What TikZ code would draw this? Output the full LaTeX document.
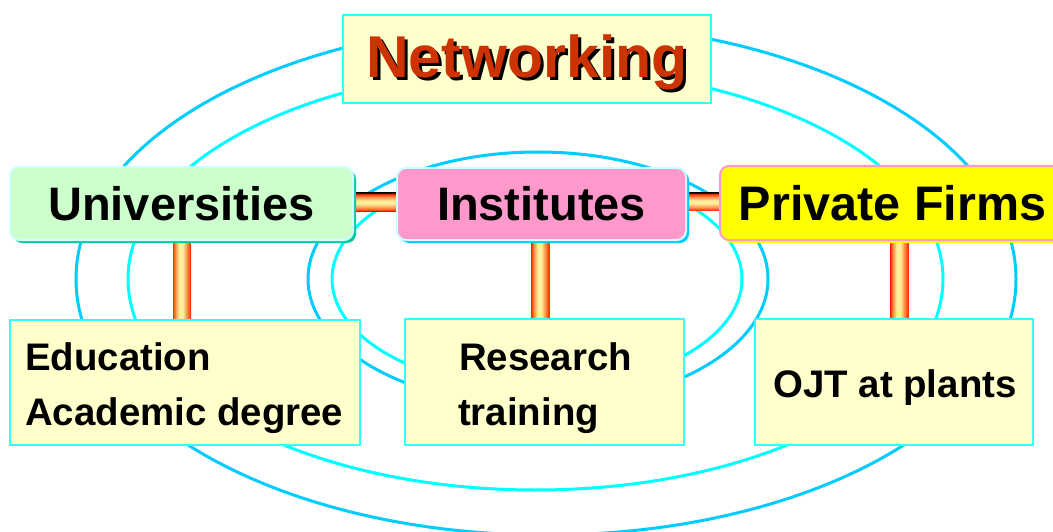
\documentclass[tikz,border=0pt]{standalone}
\usepackage{fontspec}
\setmainfont{Liberation Sans}
\usetikzlibrary{calc,shadows,backgrounds}

\definecolor{ringBlue}{HTML}{00CCFF}
\definecolor{ringCyan}{HTML}{00FFFF}
\definecolor{paleYellow}{HTML}{FFFFCC}
\definecolor{boxEdge}{HTML}{33FFFF}
\definecolor{mint}{HTML}{CCFFCC}
\definecolor{mintShadow}{HTML}{00CC99}
\definecolor{lightEdge}{HTML}{CCFFFF}
\definecolor{rosePink}{HTML}{FF99CC}
\definecolor{skyShadow}{HTML}{00CCFF}
\definecolor{brightYellow}{HTML}{FFFF00}
\definecolor{titleRed}{HTML}{CC3300}
\definecolor{barDark}{HTML}{3A0A00}
\definecolor{barRed}{HTML}{FF3300}
\definecolor{barOrange}{HTML}{FF8844}
\definecolor{barLight}{HTML}{FFEE99}

% tube look of the links: horizontal links vary top-to-bottom, vertical ones left-to-right
\pgfdeclareverticalshading{hbarshade}{100bp}{color(0bp)=(barDark); color(25bp)=(barDark); color(27bp)=(barRed); color(34bp)=(barOrange); color(46bp)=(barLight); color(54bp)=(barLight); color(65bp)=(barOrange); color(72bp)=(barRed); color(75bp)=(barDark); color(100bp)=(barDark)}
\pgfdeclarehorizontalshading{vbarshade}{100bp}{color(0bp)=(barRed); color(25bp)=(barRed); color(31bp)=(barOrange); color(42bp)=(barLight); color(52bp)=(barLight); color(64bp)=(barOrange); color(73bp)=(barRed); color(75bp)=(barRed); color(100bp)=(barRed)}

% bold title with a black drop shadow behind it
\newcommand{\shadowtitle}[1]{%
  \makebox[0pt][l]{\hspace{3pt}\raisebox{-3pt}{\color{black}#1}}{\color{titleRed}#1}}

\begin{document}
\begin{tikzpicture}[x=1pt,y=-1pt,
  ring/.style={line width=3pt},
  plainbox/.style={rectangle, fill=paleYellow, draw=boxEdge, line width=1.5pt, inner sep=0pt},
  roundbox/.style={rectangle, rounded corners=9pt, line width=2pt, inner sep=0pt,
    font=\fontsize{47}{50}\selectfont\bfseries},
  titletext/.style={anchor=base, inner sep=0pt, font=\fontsize{59}{60}\selectfont\bfseries},
  bodytext/.style={inner sep=0pt, font=\fontsize{38.4}{44}\selectfont\bfseries},
  linkh/.style={shading=hbarshade},
  linkv/.style={shading=vbarshade}]

\useasboundingbox (0,0) rectangle (1053,532);

% title box
\node[plainbox, minimum width=368pt, minimum height=88pt] (net) at (527,59) {};
\node[titletext] (nettext) at (527,78) {\shadowtitle{Networking}};

% middle row
\node[roundbox, fill=mint, draw=lightEdge,
  general shadow={fill=mintShadow, shadow xshift=3pt, shadow yshift=-3pt},
  minimum width=343pt, minimum height=73pt] (uni) at (181.5,203.5) {Universities};
\node[roundbox, fill=rosePink, draw=lightEdge,
  general shadow={fill=skyShadow, shadow xshift=3pt, shadow yshift=-3pt},
  minimum width=289pt, minimum height=72pt] (inst) at (541.5,204) {Institutes};
\node[roundbox, fill=brightYellow, draw=rosePink,
  general shadow={fill=brightYellow, shadow xshift=3pt, shadow yshift=-3pt},
  minimum width=345pt, minimum height=74pt,
  font=\fontsize{48.5}{52}\selectfont\bfseries] (pf) at (892.5,203) {Private Firms};

% bottom row
\node[plainbox, minimum width=350pt, minimum height=125pt] (edu) at (185,382.5) {};
\node[plainbox, minimum width=279pt, minimum height=126pt] (res) at (544.5,382) {};
\node[plainbox, minimum width=278pt, minimum height=126pt] (ojt) at (894,382) {};

\node[bodytext, anchor=base west] (edu1) at (25,370) {Education};
\node[bodytext, anchor=base west] (edu2) at (25,425) {Academic degree};
\node[bodytext, anchor=base west] (res1) at (459,370) {Research};
\node[bodytext, anchor=base west] (res2) at (458,425) {training};
\node[bodytext, anchor=base] (ojt1) at (895,397) {OJT at plants};

\begin{pgfonlayer}{background}
  \fill[white] (0,0) rectangle (1053,532);
  % concentric rings
  \draw[ring, ringBlue] (546,279) ellipse [x radius=470pt, y radius=256pt];
  \draw[ring, ringCyan] (535.5,279) ellipse [x radius=407.5pt, y radius=211pt];
  \draw[ring, ringBlue] (538,279) ellipse [x radius=230pt, y radius=127pt];
  \draw[ring, ringCyan] (537,279) ellipse [x radius=205pt, y radius=110pt];
  % links between the partners
  \shade[linkh] ($(uni.east)+(-2,-10.5)$) rectangle ($(inst.west)+(2,7.5)$);
  \shade[linkh] ($(inst.east)+(-2,-11)$) rectangle ($(pf.west)+(2,8)$);
  % links down to the activities
  \shade[linkv] ($(uni.south)+(-8.5,-2)$) rectangle ($(uni.south |- edu.north)+(9.5,2)$);
  \shade[linkv] ($(inst.south)+(-10,-2)$) rectangle ($(inst.south |- res.north)+(8,2)$);
  \shade[linkv] ($(pf.south)+(-2,-2)$) rectangle ($(pf.south |- ojt.north)+(16,2)$);
\end{pgfonlayer}
\end{tikzpicture}
\end{document}
